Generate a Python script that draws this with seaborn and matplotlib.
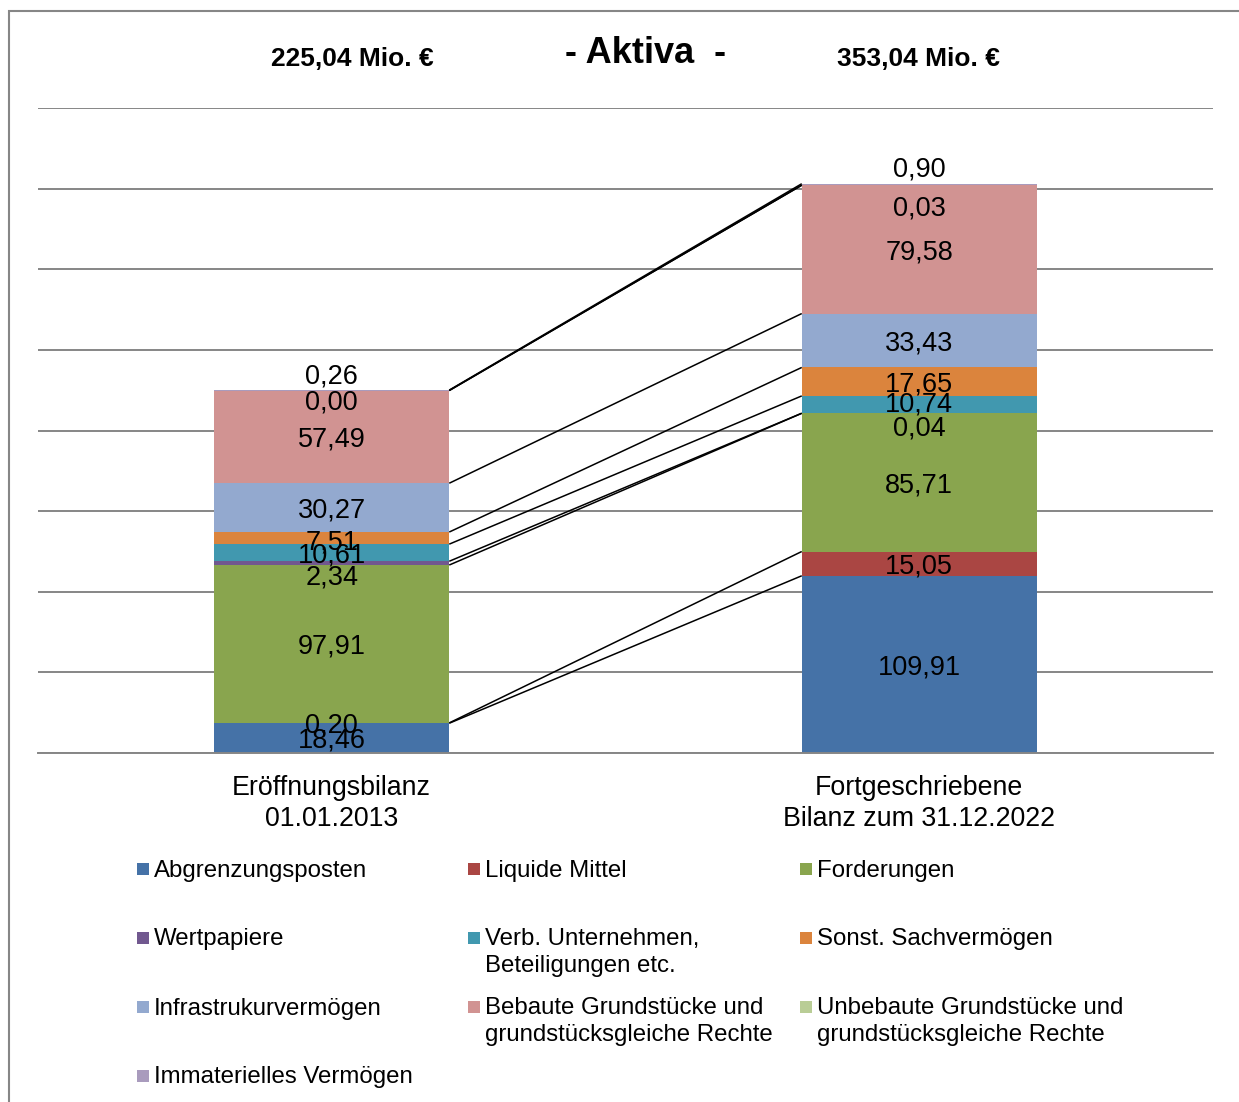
import numpy as np
import pandas as pd
import seaborn as sns
import matplotlib.pyplot as plt
from matplotlib.patches import Rectangle

sns.set_style("white")
plt.rcParams['font.family'] = ['Liberation Sans', 'DejaVu Sans']
plt.rcParams['text.color'] = 'black'
plt.rcParams['xtick.labelcolor'] = 'black'

# --- data -------------------------------------------------------------
categories = ["Eröffnungsbilanz\n01.01.2013", "Fortgeschriebene\nBilanz zum 31.12.2022"]
totals_text = ["225,04 Mio. €", "353,04 Mio. €"]

series_names = [
    "Abgrenzungsposten",
    "Liquide Mittel",
    "Forderungen",
    "Wertpapiere",
    "Verb. Unternehmen,\nBeteiligungen etc.",
    "Sonst. Sachvermögen",
    "Infrastrukurvermögen",
    "Bebaute Grundstücke und\ngrundstücksgleiche Rechte",
    "Unbebaute Grundstücke und\ngrundstücksgleiche Rechte",
    "Immaterielles Vermögen",
]
values_2013 = [18.46, 0.20, 97.91, 2.34, 10.61, 7.51, 30.27, 57.49, 0.00, 0.26]
values_2022 = [109.91, 15.05, 85.71, 0.04, 10.74, 17.65, 33.43, 79.58, 0.03, 0.90]

colors = ["#4572A7", "#AA4643", "#89A54E", "#71588F", "#4198AF",
          "#DB843D", "#93A9CF", "#D19392", "#B9CD96", "#A99BBD"]

# --- figure -----------------------------------------------------------
W, H = 1239, 1102
fig = plt.figure(figsize=(W / 100, H / 100), dpi=100)

def fx(px):
    return px / W

def fy(py):
    return 1 - py / H

ax = fig.add_axes([fx(38), fy(753), fx(1213) - fx(38), fy(108) - fy(753)])

vals = np.array([values_2013, values_2022])
cum = np.cumsum(vals, axis=1)

# stacked bars: draw cumulative totals from the top series down
for i in range(len(series_names) - 1, -1, -1):
    df = pd.DataFrame({"cat": categories, "top": cum[:, i]})
    sns.barplot(data=df, x="cat", y="top", color=colors[i], saturation=1,
                width=0.4, ax=ax, linewidth=0, zorder=2)

ax.set_xlim(-0.5, 1.5)
ax.set_ylim(0, 400)
ax.set_ylabel("")
ax.set_xlabel("")

# gridlines
ax.set_yticks(np.arange(0, 401, 50))
ax.yaxis.grid(True, color="#868686", linewidth=1.4, zorder=0)
ax.set_axisbelow(True)
ax.tick_params(axis="y", left=False, labelleft=False)
for s in ["left", "right", "top"]:
    ax.spines[s].set_visible(False)
ax.spines["bottom"].set_color("#868686")
ax.spines["bottom"].set_linewidth(1.4)

# category ticks and separators
ax.set_xticks([0, 1])
ax.set_xticklabels(categories, fontsize=19.3, linespacing=1.25, color="black")
ax.tick_params(axis="x", which="major", length=0, pad=16)
ax.set_xticks([-0.5, 0.5, 1.5], minor=True)
ax.tick_params(axis="x", which="minor", length=5, width=1.4, color="#868686", direction="out")

# connector lines between cumulative boundaries
half = 0.2
for i in range(len(series_names)):
    ax.plot([0 + half, 1 - half], [cum[0, i], cum[1, i]], color="black",
            linewidth=1.1, zorder=3, solid_capstyle="butt")

# value labels (small offsets in points keep tiny segments readable)
offsets = {
    (0, 3): -10, (0, 5): -3, (0, 8): -8.5, (0, 9): 10,
    (1, 3): -11, (1, 4): 0, (1, 8): -16.5, (1, 9): 11,
}
for j in range(2):
    bottoms = np.concatenate([[0], cum[j, :-1]])
    for i, v in enumerate(vals[j]):
        yc = bottoms[i] + v / 2
        dy = offsets.get((j, i), -2)
        ax.annotate(f"{v:.2f}".replace(".", ","), (j, yc), xytext=(0, dy),
                    textcoords="offset points", ha="center", va="center",
                    fontsize=19.5, color="black", zorder=4)

# headings
fig.text(fx(646), fy(63), "- Aktiva  -", ha="center", va="baseline",
         fontsize=26, fontweight="bold", color="black")
fig.text(fx(352), fy(66), totals_text[0], ha="center", va="baseline",
         fontsize=19, fontweight="bold", color="black")
fig.text(fx(918), fy(66), totals_text[1], ha="center", va="baseline",
         fontsize=19, fontweight="bold", color="black")

# legend laid out row by row in three columns
col_x = [137, 468, 800]
row_y = [869, 938, 1007, 1076]
sq = 12
for k, name in enumerate(series_names):
    r, c = divmod(k, 3)
    x0, yc = col_x[c], row_y[r]
    fig.add_artist(Rectangle((fx(x0), fy(yc + sq / 2)), sq / W, sq / H,
                             transform=fig.transFigure, facecolor=colors[k],
                             edgecolor="none"))
    fig.text(fx(x0 + 17), fy(yc + 8 - 17.5), name, ha="left", va="top",
             fontsize=17.3, linespacing=1.25, color="black")

# outer chart frame
fig.add_artist(Rectangle((fx(9), fy(H + 20)), fx(1260) - fx(9), fy(11) - fy(H + 20),
                         transform=fig.transFigure, facecolor="none",
                         edgecolor="#868686", linewidth=1.5))

fig.savefig("out.png", dpi=100)
